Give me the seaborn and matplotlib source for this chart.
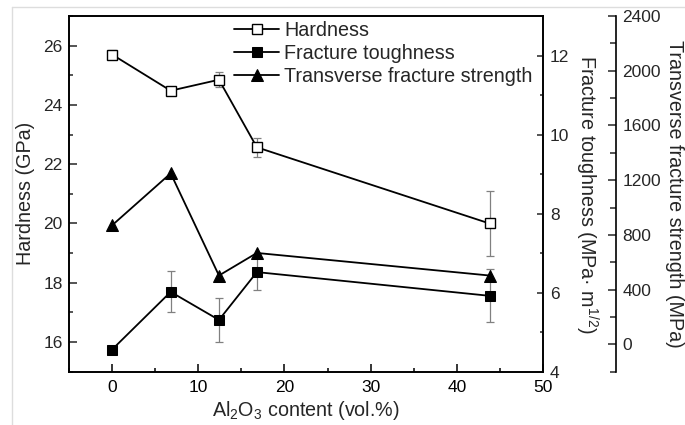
import matplotlib
matplotlib.use("Agg")
import matplotlib.pyplot as plt
import seaborn as sns
import numpy as np
import pandas as pd
from matplotlib.ticker import MultipleLocator
from matplotlib.lines import Line2D

# ---- data ----
al2o3 = [0, 6.8, 12.4, 16.8, 43.8]
hardness = [25.7, 24.48, 24.85, 22.57, 20.0]
hardness_err = [0.15, 0.1, 0.25, 0.33, 1.1]
toughness = [4.56, 6.02, 5.31, 6.52, 5.92]
toughness_err = [0.0, 0.52, 0.56, 0.46, 0.67]
strength = [870, 1250, 503, 668, 503]
labels = ["Hardness", "Fracture toughness", "Transverse fracture strength"]

sns.set_theme(style="ticks")
plt.rcParams['font.family'] = ['Liberation Sans', 'DejaVu Sans']
plt.rcParams['mathtext.fontset'] = 'custom'
plt.rcParams['mathtext.rm'] = 'Liberation Sans'
plt.rcParams['mathtext.it'] = 'Liberation Sans'
plt.rcParams['axes.linewidth'] = 1.2

fig = plt.figure(figsize=(6.85, 4.25), dpi=100)
ax = fig.add_axes([69/685, 1-371.7/425, 474/685, (371.7-16)/425])
ax2 = ax.twinx()
ax3 = ax.twinx()
ax3.spines['right'].set_position(('axes', 1 + 73/474))

ecol = '#808080'
ax.errorbar(al2o3, hardness, yerr=hardness_err, fmt='none', ecolor=ecol,
            elinewidth=0.9, capsize=3, capthick=0.9, zorder=1)
sns.lineplot(x=al2o3, y=hardness, ax=ax, color='black', marker='s',
             markersize=7, markerfacecolor='white', markeredgecolor='black',
             markeredgewidth=1.0, linewidth=1.3, legend=False, zorder=3)
h1 = ax.lines[-1]

ax2.errorbar(al2o3, toughness, yerr=toughness_err, fmt='none', ecolor=ecol,
             elinewidth=0.9, capsize=3, capthick=0.9, zorder=1)
sns.lineplot(x=al2o3, y=toughness, ax=ax2, color='black', marker='s',
             markersize=7.5, markerfacecolor='black', markeredgecolor='black',
             linewidth=1.3, legend=False, zorder=3)
h2 = ax2.lines[-1]

sns.lineplot(x=al2o3, y=strength, ax=ax3, color='black', marker='^',
             markersize=9, markerfacecolor='black', markeredgecolor='black',
             linewidth=1.3, legend=False, zorder=3)
h3 = ax3.lines[-1]

# ---- axes limits and ticks ----
ax.set_xlim(-5, 50)
ax.set_ylim(15, 27)
ax2.set_ylim(4, 13)
ax3.set_ylim(-200, 2400)
ax.xaxis.set_major_locator(MultipleLocator(10))
ax.xaxis.set_minor_locator(MultipleLocator(5))
ax.yaxis.set_major_locator(MultipleLocator(2))
ax.yaxis.set_minor_locator(MultipleLocator(1))
ax2.yaxis.set_major_locator(MultipleLocator(2))
ax2.yaxis.set_minor_locator(MultipleLocator(1))
ax3.yaxis.set_major_locator(MultipleLocator(400))
ax3.yaxis.set_minor_locator(MultipleLocator(200))

fs_tick = 12.5
ax.tick_params(axis='x', which='both', direction='in', top=False, labelsize=fs_tick,
               pad=6, colors='black')
ax.tick_params(axis='x', which='major', length=5.5, width=1.1)
ax.tick_params(axis='x', which='minor', length=3, width=1.1)
ax.tick_params(axis='y', which='both', direction='in', right=False, labelsize=fs_tick,
               pad=4.5)
ax.tick_params(axis='y', which='major', length=5.5, width=1.1)
ax.tick_params(axis='y', which='minor', length=3, width=1.1)
ax2.tick_params(axis='y', which='both', direction='in', labelsize=fs_tick, pad=5.0)
ax2.tick_params(axis='y', which='major', length=4, width=1.1)
ax2.tick_params(axis='y', which='minor', length=2.5, width=1.1)
ax3.tick_params(axis='y', which='both', direction='in', labelsize=fs_tick, pad=4.5)
ax3.tick_params(axis='y', which='major', length=6, width=1.1)
ax3.tick_params(axis='y', which='minor', length=4, width=1.1)

for a in (ax, ax2, ax3):
    for s in a.spines.values():
        s.set_color('black')
        s.set_linewidth(1.2)
ax3.spines['left'].set_visible(False)
ax3.spines['top'].set_visible(False)
ax3.spines['bottom'].set_visible(False)

# ---- labels ----
fs_lab = 14.2
ax.set_xlabel('Al$_2$O$_3$ content (vol.%)', fontsize=fs_lab, labelpad=3)
ax.set_ylabel('Hardness (GPa)', fontsize=fs_lab)
ax.yaxis.set_label_coords(-0.072, 0.5)
ax2.set_ylabel('Fracture toughness (MPa\u00b7 m$^{1/2}$)', fontsize=fs_lab,
               rotation=-90, va='bottom')
ax2.yaxis.set_label_coords(1.063, 0.5)
ax3.set_ylabel('Transverse fracture strength (MPa)', fontsize=fs_lab,
               rotation=-90, va='bottom')
ax3.yaxis.set_label_coords(1.257, 0.5)

# ---- legend ----
leg = ax3.legend([h1, h2, h3], labels, loc='upper right', bbox_to_anchor=(1.003, 1.02),
                 frameon=False, fontsize=14.2, handlelength=2.3, handletextpad=0.25,
                 labelspacing=0.22, borderaxespad=0.2)

# light frame lines of the picture
fig.add_artist(Line2D([12/685, 12/685], [0, 1-7/425], transform=fig.transFigure,
                      color='#dddddd', lw=1))
fig.add_artist(Line2D([12/685, 1], [1-7/425, 1-7/425], transform=fig.transFigure,
                      color='#dddddd', lw=1))

fig.savefig('out.png', dpi=100)
